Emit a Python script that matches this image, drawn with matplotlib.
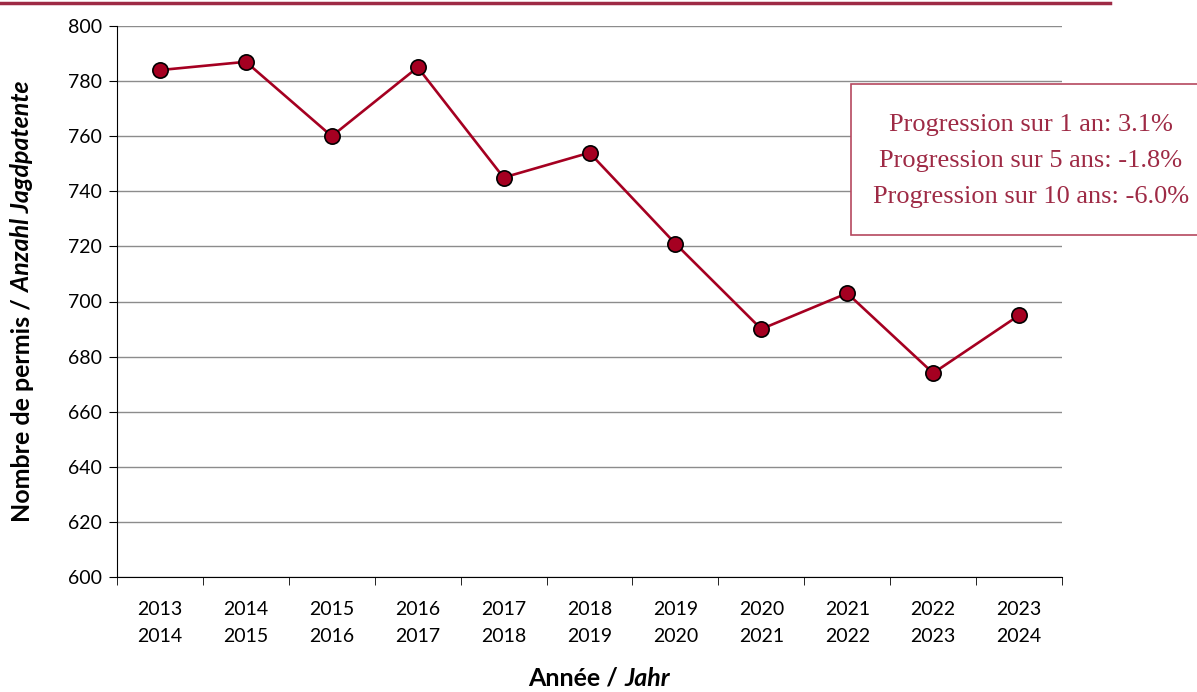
import matplotlib.pyplot as plt
import numpy as np

# Données
saisons_debut = ["2013", "2014", "2015", "2016", "2017", "2018", "2019", "2020", "2021", "2022", "2023"]
saisons_fin = ["2014", "2015", "2016", "2017", "2018", "2019", "2020", "2021", "2022", "2023", "2024"]
permis = [784, 787, 760, 785, 745, 754, 721, 690, 703, 674, 695]
progressions = ["Progression sur 1 an: 3.1%",
                "Progression sur 5 ans: -1.8%",
                "Progression sur 10 ans: -6.0%"]

rouge = "#a50021"
bordeaux = "#9e2a45"
police = "Lato"

fig = plt.figure(figsize=(11.97, 6.92), dpi=100)
ax = fig.add_axes([117/1197, 1 - 577/692, (1062-117)/1197, (577-26)/692])

x = np.arange(len(permis))
ax.plot(x, permis, color=rouge, lw=1.9, marker="o", markersize=11,
        markerfacecolor=rouge, markeredgecolor="black", markeredgewidth=1.2, zorder=3)

ax.set_xlim(-0.5, len(permis) - 0.5)
ax.set_ylim(600, 800)
ax.set_yticks(np.arange(600, 801, 20))
ax.yaxis.grid(True, color="#8c8c8c", lw=1)
ax.set_axisbelow(True)

ax.set_xticks(x)
ax.set_xticklabels([a + "\n" + b for a, b in zip(saisons_debut, saisons_fin)],
                   fontfamily=police, fontsize=14, linespacing=1.75)
ax.set_xticks(np.arange(-0.5, len(permis)), minor=True)
ax.tick_params(axis="x", which="major", length=0, pad=17)
ax.tick_params(axis="x", which="minor", length=6, direction="out", color="black")
ax.tick_params(axis="y", length=6, direction="out", labelsize=14, pad=5)
for lab in ax.get_yticklabels():
    lab.set_fontfamily(police)

for s in ["top", "right"]:
    ax.spines[s].set_visible(False)
ax.spines["left"].set_color("black")
ax.spines["bottom"].set_color("black")

# Titres des axes (partie droite en italique)
fig.canvas.draw()
r = fig.canvas.get_renderer()
t1 = fig.text(23/1197, 1 - 522/692, "Nombre de permis / ", rotation=90, fontfamily=police,
              fontweight="bold", fontsize=18, ha="center", va="bottom")
bb = t1.get_window_extent(r)
fig.text(23/1197, bb.y1/fig.bbox.height, "Anzahl Jagdpatente", rotation=90, fontfamily=police,
         fontweight="bold", fontstyle="italic", fontsize=18, ha="center", va="bottom")

t2 = fig.text(528/1197, 1 - 690/692, "Année / ", fontfamily=police, fontweight="bold",
              fontsize=18, ha="left", va="bottom")
bb = t2.get_window_extent(r)
fig.text(bb.x1/fig.bbox.width, 1 - 690/692, "Jahr", fontfamily=police, fontweight="bold",
         fontstyle="italic", fontsize=18, ha="left", va="bottom")

# Encadré des progressions
fig.patches.append(plt.Rectangle((851/1197, 1 - 235/692), 360/1197, 151/692,
                                 transform=fig.transFigure, fill=True, facecolor="white",
                                 edgecolor="#b5485f", lw=1.2, zorder=5))
fig.text(1031/1197, 1 - 161/692, "\n".join(progressions), ha="center", va="center",
         fontfamily="Liberation Serif", fontsize=19, color=bordeaux, linespacing=1.85, zorder=6)

# Ligne décorative en haut
fig.add_artist(plt.Line2D([0, 1110/1197], [1 - 3/692, 1 - 3/692], transform=fig.transFigure,
                          color=bordeaux, lw=2.5))

fig.savefig("out.png", dpi=100)
